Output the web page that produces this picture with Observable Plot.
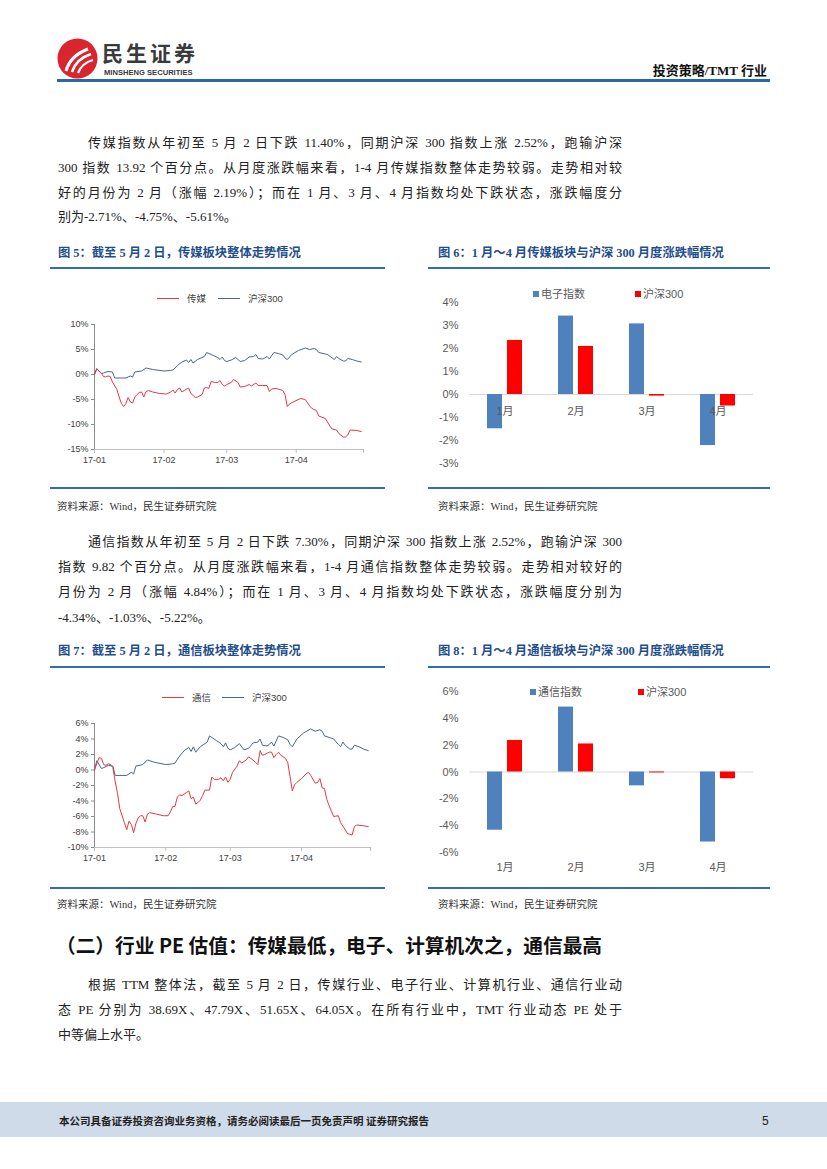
<!DOCTYPE html>
<html lang="zh-CN">
<head>
<meta charset="utf-8">
<script src="https://cdn.jsdelivr.net/npm/d3@7"></script>
<script src="https://cdn.jsdelivr.net/npm/@observablehq/plot@0.6"></script>
<style>
html,body{margin:0;padding:0;background:#fff;}
#page{position:relative;width:827px;height:1169px;overflow:hidden;font-family:"Liberation Serif","Noto Sans CJK SC",serif;color:#222;}
.abs{position:absolute;}
.ln{position:absolute;left:58px;width:564px;font-size:13px;line-height:18px;height:18px;text-align:justify;text-align-last:justify;}
.ln.ind{left:88px;width:534px;}
.ln.last{text-align-last:left;}
.ft{position:absolute;font-size:12.3px;font-weight:bold;color:#1f4e8c;line-height:16px;white-space:nowrap;}
.rule{position:absolute;height:1.5px;background:#2f6fae;}
.src{position:absolute;font-size:10.5px;line-height:14px;color:#333;white-space:nowrap;}
.lg{position:absolute;font-family:"Liberation Sans",Arial,"Noto Sans CJK SC",sans-serif;white-space:nowrap;}
.lgline{position:absolute;height:1.2px;}
.sq{position:absolute;width:6px;height:6px;}
</style>
</head>
<body>
<div id="page">
  <!-- header -->
  <svg class="abs" style="left:57px;top:38px" width="41" height="41" viewBox="0 0 41 41">
    <circle cx="20.5" cy="20.5" r="20" fill="#d9262e"/>
    <path d="M9 33 Q13 18 31 11" stroke="#fff" stroke-width="3" fill="none"/>
    <path d="M15 34 Q19 21 34 16" stroke="#fff" stroke-width="2.6" fill="none"/>
    <path d="M21 35 Q25 25 36 22" stroke="#fff" stroke-width="2.2" fill="none"/>
  </svg>
  <div class="abs" style="left:102px;top:41px;font-family:'Noto Sans CJK SC',sans-serif;font-weight:bold;font-size:21px;line-height:22px;letter-spacing:3px;color:#3a3a3a;white-space:nowrap;">民生证券</div>
  <div class="abs" style="left:104px;top:69px;font-family:'Liberation Sans',Arial,sans-serif;font-weight:bold;font-size:7.6px;line-height:8px;color:#3a3a3a;white-space:nowrap;">MINSHENG SECURITIES</div>
  <div class="abs" style="right:60px;top:62px;font-weight:bold;font-size:13px;line-height:18px;color:#111;white-space:nowrap;">投资策略/TMT 行业</div>
  <div class="abs" style="left:57px;top:79px;width:713px;height:2.5px;background:#2a67a6;"></div>

  <!-- paragraph 1 -->
  <div class="ln ind" style="top:134px">传媒指数从年初至 5 月 2 日下跌 11.40%，同期沪深 300 指数上涨 2.52%，跑输沪深</div>
  <div class="ln" style="top:159px">300 指数 13.92 个百分点。从月度涨跌幅来看，1-4 月传媒指数整体走势较弱。走势相对较</div>
  <div class="ln" style="top:184px">好的月份为 2 月（涨幅 2.19%）；而在 1 月、3 月、4 月指数均处下跌状态，涨跌幅度分</div>
  <div class="ln last" style="top:208px">别为-2.71%、-4.75%、-5.61%。</div>

  <!-- figure 5 / 6 frames -->
  <div class="ft" style="left:58px;top:245px">图 5：截至 5 月 2 日，传媒板块整体走势情况</div>
  <div class="rule" style="left:50px;top:267px;width:335px"></div>
  <div class="rule" style="left:50px;top:487px;width:335px"></div>
  <div class="src" style="left:57px;top:500px">资料来源：Wind，民生证券研究院</div>
  <div class="ft" style="left:438px;top:245px">图 6：1 月～4 月传媒板块与沪深 300 月度涨跌幅情况</div>
  <div class="rule" style="left:428px;top:267px;width:342px"></div>
  <div class="rule" style="left:428px;top:487px;width:342px"></div>
  <div class="src" style="left:438px;top:500px">资料来源：Wind，民生证券研究院</div>

  <!-- legends fig 5 -->
  <div class="lgline" style="left:157px;top:298px;width:22px;background:#e33a3f"></div>
  <div class="lg" style="left:187px;top:292px;font-size:9.5px;line-height:13px;color:#404040">传媒</div>
  <div class="lgline" style="left:218px;top:298px;width:22px;background:#4a6592"></div>
  <div class="lg" style="left:248px;top:292px;font-size:9.5px;line-height:13px;color:#404040">沪深300</div>
  <!-- legends fig 6 -->
  <div class="sq" style="left:533px;top:291px;background:#4f81bd"></div>
  <div class="lg" style="left:541px;top:287px;font-size:11px;line-height:14px;color:#595959">电子指数</div>
  <div class="sq" style="left:635px;top:291px;background:#ff0000"></div>
  <div class="lg" style="left:643px;top:287px;font-size:11px;line-height:14px;color:#595959">沪深300</div>

  <div id="c1" class="abs" style="left:50px;top:310px"></div>
  <div id="c2" class="abs" style="left:428px;top:285px"></div>

  <!-- paragraph 2 -->
  <div class="ln ind" style="top:533px">通信指数从年初至 5 月 2 日下跌 7.30%，同期沪深 300 指数上涨 2.52%，跑输沪深 300</div>
  <div class="ln" style="top:558px">指数 9.82 个百分点。从月度涨跌幅来看，1-4 月通信指数整体走势较弱。走势相对较好的</div>
  <div class="ln" style="top:583px">月份为 2 月（涨幅 4.84%）；而在 1 月、3 月、4 月指数均处下跌状态，涨跌幅度分别为</div>
  <div class="ln last" style="top:609px">-4.34%、-1.03%、-5.22%。</div>

  <!-- figure 7 / 8 frames -->
  <div class="ft" style="left:58px;top:643px">图 7：截至 5 月 2 日，通信板块整体走势情况</div>
  <div class="rule" style="left:50px;top:666px;width:335px"></div>
  <div class="rule" style="left:50px;top:887px;width:335px"></div>
  <div class="src" style="left:57px;top:898px">资料来源：Wind，民生证券研究院</div>
  <div class="ft" style="left:438px;top:643px">图 8：1 月～4 月通信板块与沪深 300 月度涨跌幅情况</div>
  <div class="rule" style="left:428px;top:666px;width:342px"></div>
  <div class="rule" style="left:428px;top:887px;width:342px"></div>
  <div class="src" style="left:438px;top:898px">资料来源：Wind，民生证券研究院</div>

  <!-- legends fig 7 -->
  <div class="lgline" style="left:162px;top:697px;width:22px;background:#e33a3f"></div>
  <div class="lg" style="left:192px;top:691px;font-size:9.5px;line-height:13px;color:#404040">通信</div>
  <div class="lgline" style="left:222px;top:697px;width:22px;background:#4a6592"></div>
  <div class="lg" style="left:252px;top:691px;font-size:9.5px;line-height:13px;color:#404040">沪深300</div>
  <!-- legends fig 8 -->
  <div class="sq" style="left:530px;top:689px;background:#4f81bd"></div>
  <div class="lg" style="left:538px;top:685px;font-size:11px;line-height:14px;color:#595959">通信指数</div>
  <div class="sq" style="left:638px;top:689px;background:#ff0000"></div>
  <div class="lg" style="left:646px;top:685px;font-size:11px;line-height:14px;color:#595959">沪深300</div>

  <div id="c3" class="abs" style="left:50px;top:710px"></div>
  <div id="c4" class="abs" style="left:428px;top:680px"></div>

  <!-- section heading & paragraph 3 -->
  <div class="abs" style="left:56px;top:933px;font-family:'Noto Sans CJK SC',sans-serif;font-weight:bold;font-size:19.7px;line-height:24px;color:#111;white-space:nowrap;">（二）行业 PE 估值：传媒最低，电子、计算机次之，通信最高</div>
  <div class="ln ind" style="top:976px">根据 TTM 整体法，截至 5 月 2 日，传媒行业、电子行业、计算机行业、通信行业动</div>
  <div class="ln" style="top:1001px">态 PE 分别为 38.69X、47.79X、51.65X、64.05X。在所有行业中，TMT 行业动态 PE 处于</div>
  <div class="ln last" style="top:1026px">中等偏上水平。</div>

  <!-- footer -->
  <div class="abs" style="left:0;top:1102px;width:827px;height:35px;background:#cfdbe9;"></div>
  <div class="abs" style="left:59px;top:1113px;font-family:'Noto Sans CJK SC',sans-serif;font-weight:bold;font-size:10.5px;line-height:16px;color:#222;white-space:nowrap;">本公司具备证券投资咨询业务资格，请务必阅读最后一页免责声明 证券研究报告</div>
  <div class="abs" style="left:762px;top:1113px;font-family:'Liberation Sans',Arial,sans-serif;font-size:12px;line-height:16px;color:#222;">5</div>
</div>

<script>
// ---------- data ----------
const axisDates  = ["2017-01-01","2017-02-01","2017-03-01","2017-04-01","2017-05-01"];
const axisLabels = ["17-01","17-02","17-03","17-04",""];

const hs300Dates = ["2017-01-01","2017-01-02","2017-01-04","2017-01-05","2017-01-07","2017-01-09","2017-01-10","2017-01-13","2017-01-15","2017-01-17","2017-01-18","2017-01-19","2017-01-22","2017-01-24","2017-01-27","2017-02-01","2017-02-04","2017-02-05","2017-02-07","2017-02-09","2017-02-11","2017-02-12","2017-02-13","2017-02-14","2017-02-16","2017-02-19","2017-02-20","2017-02-22","2017-02-23","2017-02-25","2017-02-26","2017-02-27","2017-02-28","2017-03-01","2017-03-03","2017-03-05","2017-03-07","2017-03-09","2017-03-11","2017-03-13","2017-03-14","2017-03-15","2017-03-17","2017-03-18","2017-03-19","2017-03-20","2017-03-22","2017-03-24","2017-03-26","2017-03-27","2017-03-28","2017-03-30","2017-04-02","2017-04-05","2017-04-07","2017-04-09","2017-04-10","2017-04-11","2017-04-14","2017-04-15","2017-04-17","2017-04-18","2017-04-19","2017-04-20","2017-04-22","2017-04-23","2017-04-24","2017-04-26","2017-04-28","2017-04-30"];
const hs300Values = [0,1.2,0.2,0.3,0.6,0.5,-0.7,-0.7,-0.7,-0.3,-0.5,0.5,0.7,1.3,1.0,0.7,0.8,0.9,1.8,2.5,2.9,2.4,3.0,2.3,3.0,3.6,4.4,4.0,3.8,3.4,3.0,3.5,2.8,2.6,2.9,3.4,2.6,2.8,3.5,3.6,4.0,3.2,3.1,3.3,3.6,3.1,4.4,4.2,3.9,3.3,3.0,4.0,4.8,5.3,5.0,5.2,5.0,4.4,4.1,4.0,3.3,3.0,3.6,3.2,2.7,2.7,3.2,3.0,2.7,2.5];

const mediaDates = ["2017-01-01","2017-01-02","2017-01-04","2017-01-05","2017-01-06","2017-01-07","2017-01-08","2017-01-09","2017-01-11","2017-01-12","2017-01-13","2017-01-14","2017-01-15","2017-01-16","2017-01-17","2017-01-18","2017-01-19","2017-01-20","2017-01-21","2017-01-22","2017-01-23","2017-01-24","2017-01-25","2017-01-27","2017-01-30","2017-02-02","2017-02-04","2017-02-05","2017-02-06","2017-02-07","2017-02-08","2017-02-09","2017-02-10","2017-02-12","2017-02-13","2017-02-15","2017-02-16","2017-02-18","2017-02-19","2017-02-20","2017-02-21","2017-02-22","2017-02-24","2017-02-25","2017-02-26","2017-02-27","2017-02-28","2017-03-01","2017-03-03","2017-03-04","2017-03-06","2017-03-07","2017-03-09","2017-03-11","2017-03-12","2017-03-14","2017-03-15","2017-03-17","2017-03-19","2017-03-20","2017-03-21","2017-03-23","2017-03-24","2017-03-26","2017-03-27","2017-03-28","2017-03-29","2017-03-31","2017-04-03","2017-04-05","2017-04-07","2017-04-08","2017-04-10","2017-04-11","2017-04-14","2017-04-16","2017-04-17","2017-04-19","2017-04-20","2017-04-22","2017-04-23","2017-04-24","2017-04-25","2017-04-28","2017-04-30"];
const mediaValues = [0,1.1,0.3,-0.4,-0.5,-0.3,-0.4,-1.5,-3.0,-4.5,-5.8,-6.4,-5.8,-4.6,-5.5,-5.7,-4.5,-4.0,-3.6,-3.5,-4.5,-3.4,-3.2,-3.5,-3.8,-3.9,-3.5,-3.1,-3.7,-3.0,-2.7,-3.5,-3.2,-2.7,-3.8,-4.6,-4.5,-4.0,-2.7,-2.6,-2.8,-1.4,-1.6,-1.6,-1.2,-2.0,-2.3,-2.0,-1.6,-1.0,-1.6,-2.5,-2.4,-2.0,-2.3,-1.7,-2.2,-2.2,-2.2,-3.4,-2.9,-2.8,-2.9,-3.2,-4.0,-6.4,-5.9,-5.4,-4.8,-5.0,-6.3,-6.8,-7.2,-8.3,-8.8,-10.3,-10.9,-11.1,-11.8,-12.5,-12.5,-12.1,-11.1,-11.2,-11.4];

const telecomDates = ["2017-01-01","2017-01-02","2017-01-03","2017-01-04","2017-01-05","2017-01-06","2017-01-07","2017-01-08","2017-01-09","2017-01-10","2017-01-11","2017-01-12","2017-01-14","2017-01-15","2017-01-16","2017-01-17","2017-01-18","2017-01-19","2017-01-20","2017-01-21","2017-01-22","2017-01-23","2017-01-24","2017-01-25","2017-01-28","2017-01-31","2017-02-02","2017-02-03","2017-02-04","2017-02-05","2017-02-06","2017-02-07","2017-02-08","2017-02-10","2017-02-11","2017-02-12","2017-02-13","2017-02-14","2017-02-15","2017-02-16","2017-02-17","2017-02-18","2017-02-20","2017-02-21","2017-02-22","2017-02-24","2017-02-25","2017-02-26","2017-02-27","2017-02-28","2017-03-01","2017-03-02","2017-03-04","2017-03-05","2017-03-06","2017-03-08","2017-03-09","2017-03-10","2017-03-12","2017-03-13","2017-03-14","2017-03-15","2017-03-16","2017-03-18","2017-03-19","2017-03-20","2017-03-21","2017-03-22","2017-03-23","2017-03-25","2017-03-26","2017-03-27","2017-03-28","2017-03-29","2017-03-30","2017-04-01","2017-04-03","2017-04-04","2017-04-05","2017-04-07","2017-04-08","2017-04-09","2017-04-10","2017-04-11","2017-04-12","2017-04-13","2017-04-14","2017-04-15","2017-04-17","2017-04-18","2017-04-20","2017-04-21","2017-04-22","2017-04-23","2017-04-24","2017-04-25","2017-04-28","2017-04-30"];
const telecomValues = [0,0.8,1.6,1.5,0.7,0.6,0.8,0.7,0.3,-1.5,-3.0,-5.0,-6.8,-7.7,-6.6,-7.0,-8.1,-6.9,-6.2,-5.9,-5.9,-6.7,-5.7,-5.5,-5.7,-5.9,-5.9,-5.4,-4.7,-4.7,-3.5,-3.2,-3.3,-2.9,-2.7,-3.7,-3.5,-4.4,-4.2,-3.9,-3.3,-2.6,-2.6,-0.9,-1.2,-1.2,-1.0,-1.4,-0.9,-1.6,-1.2,-0.3,0.5,1.2,0.9,1.3,1.7,1.5,1.0,0.7,2.5,1.9,2.0,2.3,2.3,1.6,2.0,2.3,1.9,1.5,1.0,-0.8,-2.7,-1.9,-1.6,-1.1,-0.5,-0.3,-0.7,-1.7,-1.6,-1.1,-2.3,-2.4,-3.8,-4.6,-5.3,-6.0,-5.9,-6.8,-7.7,-8.2,-8.3,-8.4,-7.3,-7.1,-7.2,-7.3];

const months = ["1月","2月","3月","4月"];
const electronicMonthly = [-1.49, 3.41, 3.07, -2.22];
const telecomMonthly = [-4.34, 4.84, -1.03, -5.22];
const hs300Monthly = [2.35, 2.09, -0.07, -0.50];

const chart1YTicks = [-15,-10,-5,0,5,10];
const chart3YTicks = [-10,-8,-6,-4,-2,0,2,4,6];
const chart2YTicks = [-3,-2,-1,0,1,2,3,4];
const chart4YTicks = [-6,-4,-2,0,2,4,6];

// ---------- helpers ----------
const parse = s => new Date(s + "T00:00:00Z");
const toRows = (dates, values) => dates.map((d, i) => ({date: parse(d), value: values[i]}));
const tickTimes = axisDates.map(parse);
const RED = "#e33a3f", SLATE = "#4a6592", BLUE = "#4f81bd", BRIGHT = "#ff0000";

function lineChart(o) {
  const x0 = tickTimes[0], x1 = tickTimes[tickTimes.length - 1];
  return Plot.plot({
    width: o.width, height: o.height,
    marginLeft: o.ml, marginRight: o.mr, marginTop: o.mt, marginBottom: o.mb,
    style: {fontFamily: "'Liberation Sans', Arial, sans-serif", fontSize: "9px", color: "#404040", background: "transparent", overflow: "visible"},
    x: {type: "utc", domain: [x0, x1]},
    y: {domain: o.yDomain},
    marks: [
      Plot.ruleY([o.yDomain[0]], {stroke: "#bfbfbf", strokeWidth: 1}),
      Plot.ruleX([x0], {stroke: "#8c8c8c", strokeWidth: 1}),
      Plot.axisY({ticks: o.yTicks, tickFormat: d => d + "%", tickSize: 3, tickPadding: 3, stroke: "#8c8c8c", fill: "#404040", fontSize: 9, label: null}),
      Plot.axisX({ticks: tickTimes, tickFormat: d => axisLabels[tickTimes.findIndex(t => +t === +d)], tickSize: 4, tickPadding: 3, stroke: "#bfbfbf", fill: "#404040", fontSize: 9, label: null}),
      Plot.line(o.b, {x: "date", y: "value", stroke: SLATE, strokeWidth: 1}),
      Plot.line(o.a, {x: "date", y: "value", stroke: RED, strokeWidth: 1})
    ]
  });
}

function barChart(o) {
  const rows = [];
  months.forEach((m, i) => {
    rows.push({month: m, series: o.names[0], value: o.a[i]});
    rows.push({month: m, series: o.names[1], value: o.b[i]});
  });
  const marks = [
    Plot.axisY({ticks: o.yTicks, tickFormat: d => d + "%", tickSize: 0, tickPadding: 11, fill: "#595959", fontSize: 11, label: null}),
    Plot.ruleY([0], {stroke: "#d9d9d9", strokeWidth: 1}),
    Plot.barY(rows, {fx: "month", x: "series", y: "value", fill: "series"})
  ];
  if (o.labelsAtZero) {
    marks.push(Plot.text(months, {fx: d => d, y: () => 0, text: d => d, dy: 17, fill: "#595959", fontSize: 11}));
  } else {
    marks.push(Plot.axisFx({anchor: "bottom", tickSize: 0, tickPadding: 11, fill: "#595959", fontSize: 11, label: null}));
  }
  return Plot.plot({
    width: 340, height: o.height,
    marginLeft: 40, marginRight: 15, marginTop: o.mt, marginBottom: o.mb,
    style: {fontFamily: "'Liberation Sans', Arial, 'Noto Sans CJK SC', sans-serif", fontSize: "11px", color: "#595959", background: "transparent", overflow: "visible"},
    fx: {domain: months, padding: 0, axis: null},
    x: {domain: o.names, paddingInner: 0.24, paddingOuter: 0.815, axis: null},
    y: {domain: o.yDomain},
    color: {domain: o.names, range: [BLUE, BRIGHT]},
    marks
  });
}

document.getElementById("c1").append(lineChart({
  width: 330, height: 165, ml: 44, mr: 17, mt: 14, mb: 26,
  yDomain: [-15, 10], yTicks: chart1YTicks,
  a: toRows(mediaDates, mediaValues), b: toRows(hs300Dates, hs300Values)
}));
document.getElementById("c3").append(lineChart({
  width: 335, height: 163, ml: 44, mr: 15, mt: 13, mb: 26,
  yDomain: [-10, 6], yTicks: chart3YTicks,
  a: toRows(telecomDates, telecomValues), b: toRows(hs300Dates, hs300Values)
}));
document.getElementById("c2").append(barChart({
  height: 195, mt: 17, mb: 17, yDomain: [-3, 4], yTicks: chart2YTicks,
  names: ["电子指数", "沪深300"], a: electronicMonthly, b: hs300Monthly, labelsAtZero: true
}));
document.getElementById("c4").append(barChart({
  height: 200, mt: 11, mb: 28, yDomain: [-6, 6], yTicks: chart4YTicks,
  names: ["通信指数", "沪深300"], a: telecomMonthly, b: hs300Monthly, labelsAtZero: false
}));
</script>
</body>
</html>
